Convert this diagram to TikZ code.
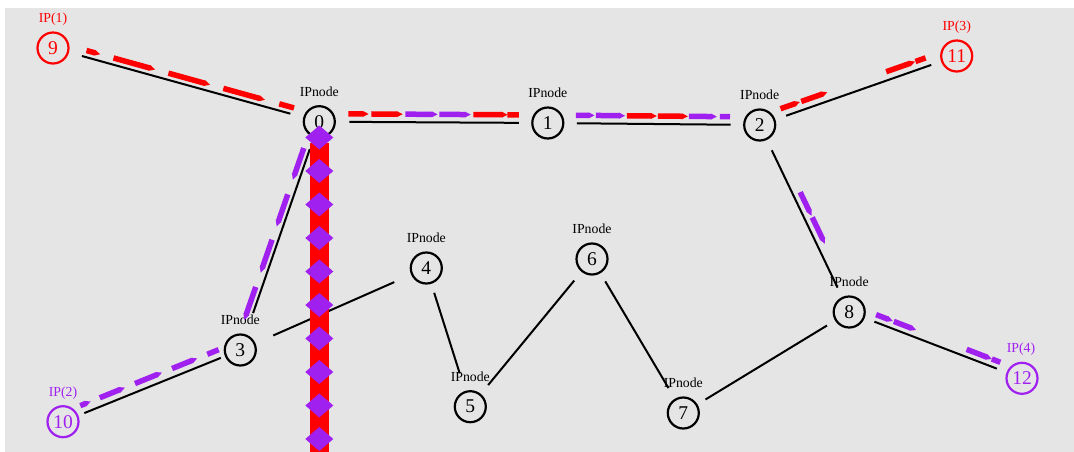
\documentclass[tikz,border=0pt]{standalone}
\usepackage{fontspec}
\setmainfont{Liberation Serif}
\usetikzlibrary{arrows.meta,calc}
\definecolor{bg}{RGB}{229,229,229}
\definecolor{pur}{RGB}{160,32,240}
\definecolor{rd}{RGB}{255,0,0}
\newcommand\fpiece[6]{\draw[#6,#1,shorten <=#4pt,shorten >=#5pt] (#2.center) -- (#3.center);}
\begin{document}
\begin{tikzpicture}[x=1pt,y=-1pt,
  nd/.style={circle, draw, line width=2.2pt, minimum size=31pt, inner sep=0pt, font=\fontsize{19.5}{19.5}\selectfont},
  ipr/.style={nd, draw=rd, text=rd},
  ipp/.style={nd, draw=pur, text=pur},
  lbl/.style={anchor=base, inner sep=0pt, font=\fontsize{13.8}{13.8}\selectfont},
  lnk/.style={line width=2pt, black},
  pc/.style={line width=5.5pt, -{Triangle[length=6pt,width=5.5pt]}},
  sqp/.style={line width=5.5pt},
]
\useasboundingbox (0,0) rectangle (1074,452);
\fill[white] (0,0) rectangle (1074,452);
\fill[bg] (5,8) rectangle (1074,452);

% nodes
\node[nd] (n0) at (319.3,121.7) {0};
\node[nd] (n1) at (547.8,123) {1};
\node[nd] (n2) at (759.7,125) {2};
\node[nd] (n3) at (240.3,350) {3};
\node[nd] (n4) at (426.3,268) {4};
\node[nd] (n5) at (470.3,406.7) {5};
\node[nd] (n6) at (592,259) {6};
\node[nd] (n7) at (683.3,413) {7};
\node[nd] (n8) at (849.2,312) {8};
\node[ipr] (n9) at (53,48) {9};
\node[ipp] (n10) at (63,421.7) {10};
\node[ipr] (n11) at (956.7,56) {11};
\node[ipp] (n12) at (1022,378.3) {12};

% labels
\node[lbl] (t0) at ([yshift=25.5pt]n0.center) {IPnode};
\node[lbl] (t1) at ([yshift=25.5pt]n1.center) {IPnode};
\node[lbl] (t2) at ([yshift=25.5pt]n2.center) {IPnode};
\node[lbl] (t3) at ([yshift=25.5pt]n3.center) {IPnode};
\node[lbl] (t4) at ([yshift=25.5pt]n4.center) {IPnode};
\node[lbl] (t5) at ([yshift=25.5pt]n5.center) {IPnode};
\node[lbl] (t6) at ([yshift=25.5pt]n6.center) {IPnode};
\node[lbl] (t7) at ([yshift=25.5pt]n7.center) {IPnode};
\node[lbl] (t8) at ([yshift=25.5pt]n8.center) {IPnode};
\node[lbl,text=rd] (t9) at ([yshift=25.5pt]n9.center) {IP(1)};
\node[lbl,text=pur] (t10) at ([yshift=25.5pt]n10.center) {IP(2)};
\node[lbl,text=rd] (t11) at ([yshift=25.5pt]n11.center) {IP(3)};
\node[lbl,text=pur] (t12) at ([xshift=-1pt,yshift=25.5pt]n12.center) {IP(4)};

% black links
\draw[lnk, shorten <=30pt, shorten >=30pt] (n9.center) -- (n0.center);
\draw[lnk, shorten <=30pt, shorten >=29pt] (n0.center) -- (n1.center);
\draw[lnk, shorten <=29pt, shorten >=29pt] (n1.center) -- (n2.center);
\draw[lnk, shorten <=28pt, shorten >=27pt] (n2.center) -- (n11.center);
\draw[lnk, shorten <=28pt, shorten >=27pt] (n2.center) -- (n8.center);
\draw[lnk, shorten <=27pt, shorten >=27pt] (n8.center) -- (n12.center);
\draw[lnk, shorten <=29pt, shorten >=39pt] (n0.center) -- (n3.center);
\draw[lnk, shorten <=21pt, shorten >=23pt] (n3.center) -- (n10.center);
\draw[lnk, shorten <=36pt, shorten >=35pt] (n3.center) -- (n4.center);
\draw[lnk, shorten <=26pt, shorten >=35pt] (n4.center) -- (n5.center);
\draw[lnk, shorten <=28pt, shorten >=28pt] (n5.center) -- (n6.center);
\draw[lnk, shorten <=26pt, shorten >=29pt] (n6.center) -- (n7.center);
\draw[lnk, shorten <=26pt, shorten >=26pt] (n7.center) -- (n8.center);

% coloured flows
\begin{scope}[transform canvas={shift={(1.7,-6.3)}}]
\fpiece{rd}{n9}{n0}{33}{229}{pc}
\fpiece{rd}{n9}{n0}{61}{172}{pc}
\fpiece{rd}{n9}{n0}{118}{115}{pc}
\fpiece{rd}{n9}{n0}{175}{58}{pc}
\fpiece{rd}{n9}{n0}{233}{28}{sqp}
\end{scope}
\begin{scope}[transform canvas={shift={(0,-8)}}]
\fpiece{rd}{n0}{n1}{29}{179}{pc}
\fpiece{rd}{n0}{n1}{52}{145}{pc}
\fpiece{pur}{n0}{n1}{86}{110}{pc}
\fpiece{pur}{n0}{n1}{120}{77}{pc}
\fpiece{rd}{n0}{n1}{154}{40}{pc}
\fpiece{rd}{n0}{n1}{188}{29}{sqp}
\fpiece{pur}{n1}{n2}{28}{165}{pc}
\fpiece{pur}{n1}{n2}{48}{134.5}{pc}
\fpiece{rd}{n1}{n2}{79}{102.7}{pc}
\fpiece{rd}{n1}{n2}{110}{71.7}{pc}
\fpiece{pur}{n1}{n2}{141}{42.7}{pc}
\fpiece{pur}{n1}{n2}{172}{29.7}{sqp}
\end{scope}
\begin{scope}[transform canvas={shift={(-2.8,-8)}}]
\fpiece{rd}{n2}{n11}{25}{163}{pc}
\fpiece{rd}{n2}{n11}{47}{134}{pc}
\fpiece{rd}{n2}{n11}{137}{41}{pc}
\fpiece{rd}{n2}{n11}{168}{30}{sqp}
\end{scope}
\begin{scope}[transform canvas={shift={(6.8,-3.2)}}]
\fpiece{pur}{n2}{n8}{78}{103}{pc}
\fpiece{pur}{n2}{n8}{106}{72}{pc}
\end{scope}
\begin{scope}[transform canvas={shift={(2.6,-6.7)}}]
\fpiece{pur}{n8}{n12}{26}{141}{pc}
\fpiece{pur}{n8}{n12}{45}{116}{pc}
\fpiece{pur}{n8}{n12}{123}{35}{pc}
\fpiece{pur}{n8}{n12}{150}{26}{sqp}
\end{scope}
\begin{scope}[transform canvas={shift={(-3.1,-7.8)}}]
\fpiece{pur}{n10}{n3}{22}{158}{pc}
\fpiece{pur}{n10}{n3}{43}{121}{pc}
\fpiece{pur}{n10}{n3}{81}{81}{pc}
\fpiece{pur}{n10}{n3}{121}{43}{pc}
\fpiece{pur}{n10}{n3}{159}{20}{sqp}
\end{scope}
\begin{scope}[transform canvas={shift={(-5.7,-2)}}]
\fpiece{pur}{n0}{n3}{30}{178}{pc}
\fpiece{pur}{n0}{n3}{79}{128.5}{pc}
\fpiece{pur}{n0}{n3}{127}{79.6}{pc}
\fpiece{pur}{n0}{n3}{177}{29.6}{pc}
\end{scope}

% vertical column from node 0
\coordinate (bot) at (319.3,480);
\begin{scope}
\clip (0,0) rectangle (1074,452);
\draw[rd, line width=18.5pt, shorten <=21.5pt] (n0.center) -- (bot);
\foreach \k in {0,...,10} {
  \pgfmathsetmacro\yy{137.5+33.5*\k}
  \fill[pur] (319.3,\yy-12) -- (333.3,\yy) -- (319.3,\yy+12) -- (305.3,\yy) -- cycle;
}
\end{scope}
\end{tikzpicture}
\end{document}
